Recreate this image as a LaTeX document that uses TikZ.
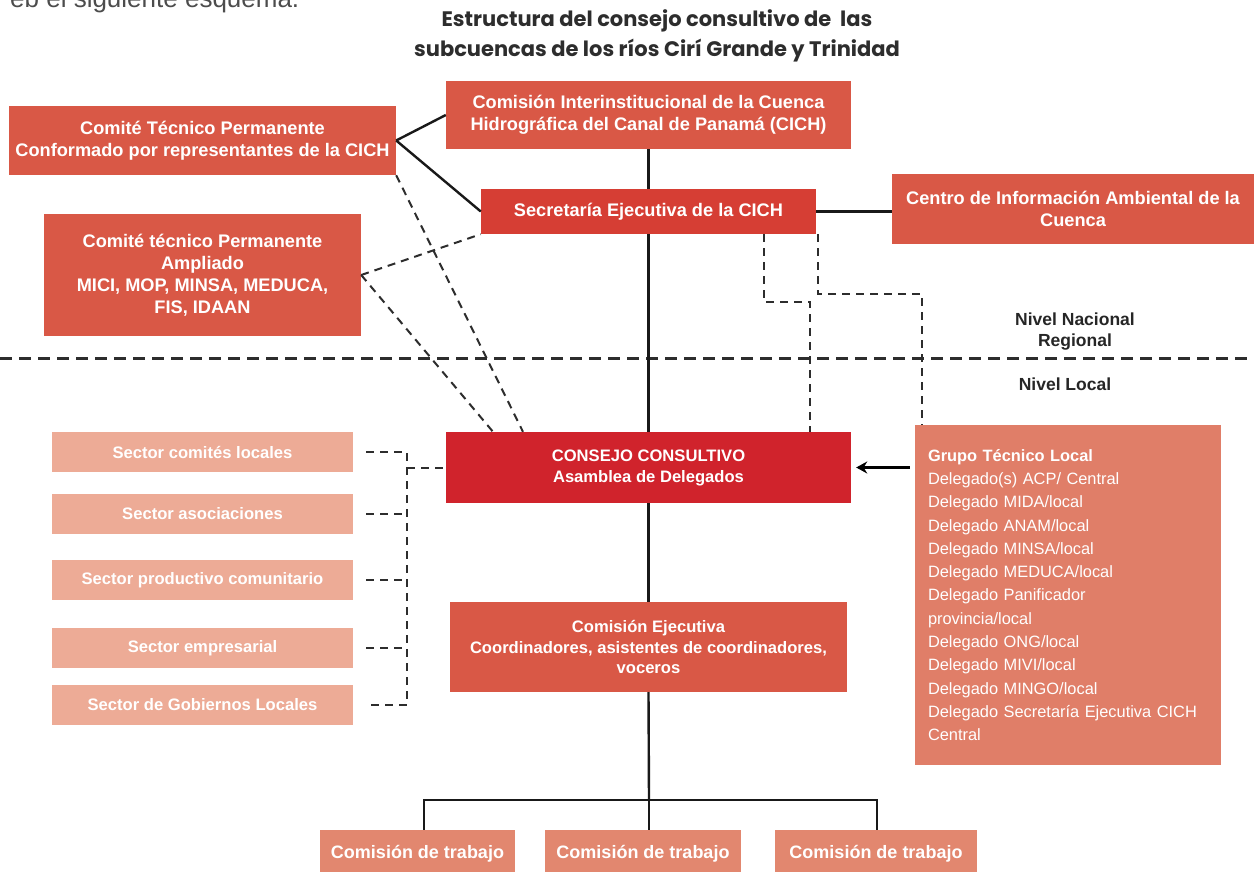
\documentclass[tikz,border=0pt]{standalone}
\usepackage{fontspec}
\setmainfont{Liberation Sans}
\newfontfamily\titlefont{Poppins}
\usetikzlibrary{arrows.meta}
\definecolor{boxA}{RGB}{217,88,70}
\definecolor{secr}{RGB}{214,62,52}
\definecolor{consc}{RGB}{208,35,44}
\definecolor{sectc}{RGB}{237,171,150}
\definecolor{grupc}{RGB}{224,126,104}
\definecolor{trabc}{RGB}{226,135,111}
\definecolor{ink}{RGB}{45,45,45}
\tikzset{
  box/.style={fill=boxA, text=white, font=\bfseries\fontsize{18.2}{22}\selectfont, align=center, inner sep=0pt},
  sect/.style={fill=sectc, text=white, font=\bfseries\fontsize{16.6}{20}\selectfont, align=center, inner sep=0pt, minimum width=301pt, minimum height=40pt},
  trab/.style={fill=trabc, text=white, font=\bfseries\fontsize{18}{22}\selectfont, align=center, inner sep=0pt, minimum height=48pt},
  solid line/.style={draw=black!90, line width=2.4pt},
  dsh/.style={draw=ink, line width=2pt, dash pattern=on 8pt off 6pt},
  lvl/.style={text=black!85, font=\bfseries\fontsize{17.5}{21}\selectfont, align=center},
}
\begin{document}
\begin{tikzpicture}[x=1pt,y=-1pt]
\useasboundingbox[fill=white] (0,0) rectangle (1254,872);
% cut-off intro text (cut off at the top edge, as in the reference)
\node[anchor=base west, inner sep=0pt, text=black!70, font=\fontsize{26}{30}\selectfont] (intro) at (10,8) {eb el siguiente esquema.};
% title
\node[align=center, text=ink, font=\titlefont\bfseries\fontsize{21}{30}\selectfont, inner sep=0pt] (title) at (657,36) {Estructura del consejo consultivo de\ \ las\\subcuencas de los ríos Cirí Grande y Trinidad};

% top boxes
\node[box, minimum width=387pt, minimum height=69pt] (cti) at (202.5,140.5) {Comité Técnico Permanente\\Conformado por representantes de la CICH};
\node[box, minimum width=405pt, minimum height=68pt] (cich) at (648.5,115) {Comisión Interinstitucional de la Cuenca\\Hidrográfica del Canal de Panamá (CICH)};
\node[box, fill=secr, minimum width=335pt, minimum height=45pt] (sec) at (648.5,211.5) {Secretaría Ejecutiva de la CICH};
\node[box, minimum width=362pt, minimum height=69pt] (centro) at (1073,209) {Centro de Información Ambiental de la\\Cuenca};
\node[box, minimum width=317pt, minimum height=122pt] (amp) at (202.5,275) {Comité técnico Permanente\\Ampliado\\MICI, MOP, MINSA, MEDUCA,\\FIS, IDAAN};

% level labels
\node[lvl] (nac) at (1075,331.5) {Nivel Nacional\\Regional};
\node[lvl] (loc) at (1065,384) {Nivel Local};
\coordinate (lvlL) at (0,358);
\coordinate (lvlR) at (1254,358);
\draw[draw=ink, line width=3pt, dash pattern=on 12pt off 7pt] (lvlL) -- (lvlR);

% local level
\node[box, fill=consc, font=\bfseries\fontsize{16.6}{21}\selectfont, minimum width=405pt, minimum height=71pt] (cons) at (648.5,467.5) {CONSEJO CONSULTIVO\\Asamblea de Delegados};
\node[box, font=\bfseries\fontsize{16.6}{20.5}\selectfont, minimum width=397pt, minimum height=90pt] (ejec) at (648.5,647) {Comisión Ejecutiva\\Coordinadores, asistentes de coordinadores,\\voceros};
\node[fill=grupc, text=white, font=\fontsize{16.4}{23.3}\selectfont, align=left, text width=280pt, inner sep=13pt, minimum height=340pt] (grupo) at (1068,595) {\textbf{Grupo Técnico Local}\\Delegado(s) ACP/ Central\\Delegado MIDA/local\\Delegado ANAM/local\\Delegado MINSA/local\\Delegado MEDUCA/local\\Delegado Panificador\\provincia/local\\Delegado ONG/local\\Delegado MIVI/local\\Delegado MINGO/local\\Delegado Secretaría Ejecutiva CICH\\Central};

% sectors
\node[sect] (s1) at (202.5,452) {Sector comités locales};
\node[sect] (s2) at (202.5,514) {Sector asociaciones};
\node[sect] (s3) at (202.5,580) {Sector productivo comunitario};
\node[sect] (s4) at (202.5,648) {Sector empresarial};
\node[sect] (s5) at (202.5,705) {Sector de Gobiernos Locales};

% working commissions (cut off at the bottom edge)
\node[trab, minimum width=195pt] (t1) at (417.5,854) {Comisión de trabajo};
\node[trab, minimum width=196pt] (t2) at (643,854) {Comisión de trabajo};
\node[trab, minimum width=202pt] (t3) at (876,854) {Comisión de trabajo};

% solid connectors
\draw[solid line] (cti.east) -- (cich.west);
\draw[solid line] (cti.east) -- (sec.west);
\draw[solid line] (cich.south) -- (sec.north);
\draw[solid line] (sec.east) -- (centro.west |- sec.east);
\draw[solid line] (sec.south) -- (cons.north);
\draw[solid line] (cons.south) -- (ejec.north);
\coordinate (bus) at (649,800);
\draw[solid line] (ejec.south) -- (bus);
\draw[solid line] ([xshift=6.5pt]t1.north) |- (bus) -| ([xshift=1pt]t3.north);
\draw[solid line] (bus) -- ([xshift=6pt]t2.north);
\draw[line width=2.8pt, -{Stealth[length=11pt,width=12pt]}] ([xshift=-5pt]grupo.west |- cons.east) -- ([xshift=5pt]cons.east);

% dashed connectors (top)
\draw[dsh] (cti.south east) -- ([xshift=-125.5pt]cons.north);
\draw[dsh] (amp.east) -- (sec.south west);
\draw[dsh] (amp.east) -- ([xshift=-155.5pt]cons.north);
\draw[dsh] ([xshift=115.5pt]sec.south) -- ++(0,68) -| ([xshift=161.5pt]cons.north);
\draw[dsh] ([xshift=169.5pt]sec.south) -- ++(0,60) -| ([xshift=-146pt]grupo.north);

% dashed connectors (sectors)
\coordinate (vx) at (407,0);
\draw[dsh] ([xshift=13pt]s1.east) -| (vx |- s5.east) -- ([xshift=13pt]s5.east);
\draw[dsh] ([xshift=13pt]s2.east) -- (vx |- s2.east);
\draw[dsh] ([xshift=13pt]s3.east) -- (vx |- s3.east);
\draw[dsh] ([xshift=13pt]s4.east) -- (vx |- s4.east);
\draw[dsh] (vx |- cons.west) -- (cons.west);
\end{tikzpicture}
\end{document}
